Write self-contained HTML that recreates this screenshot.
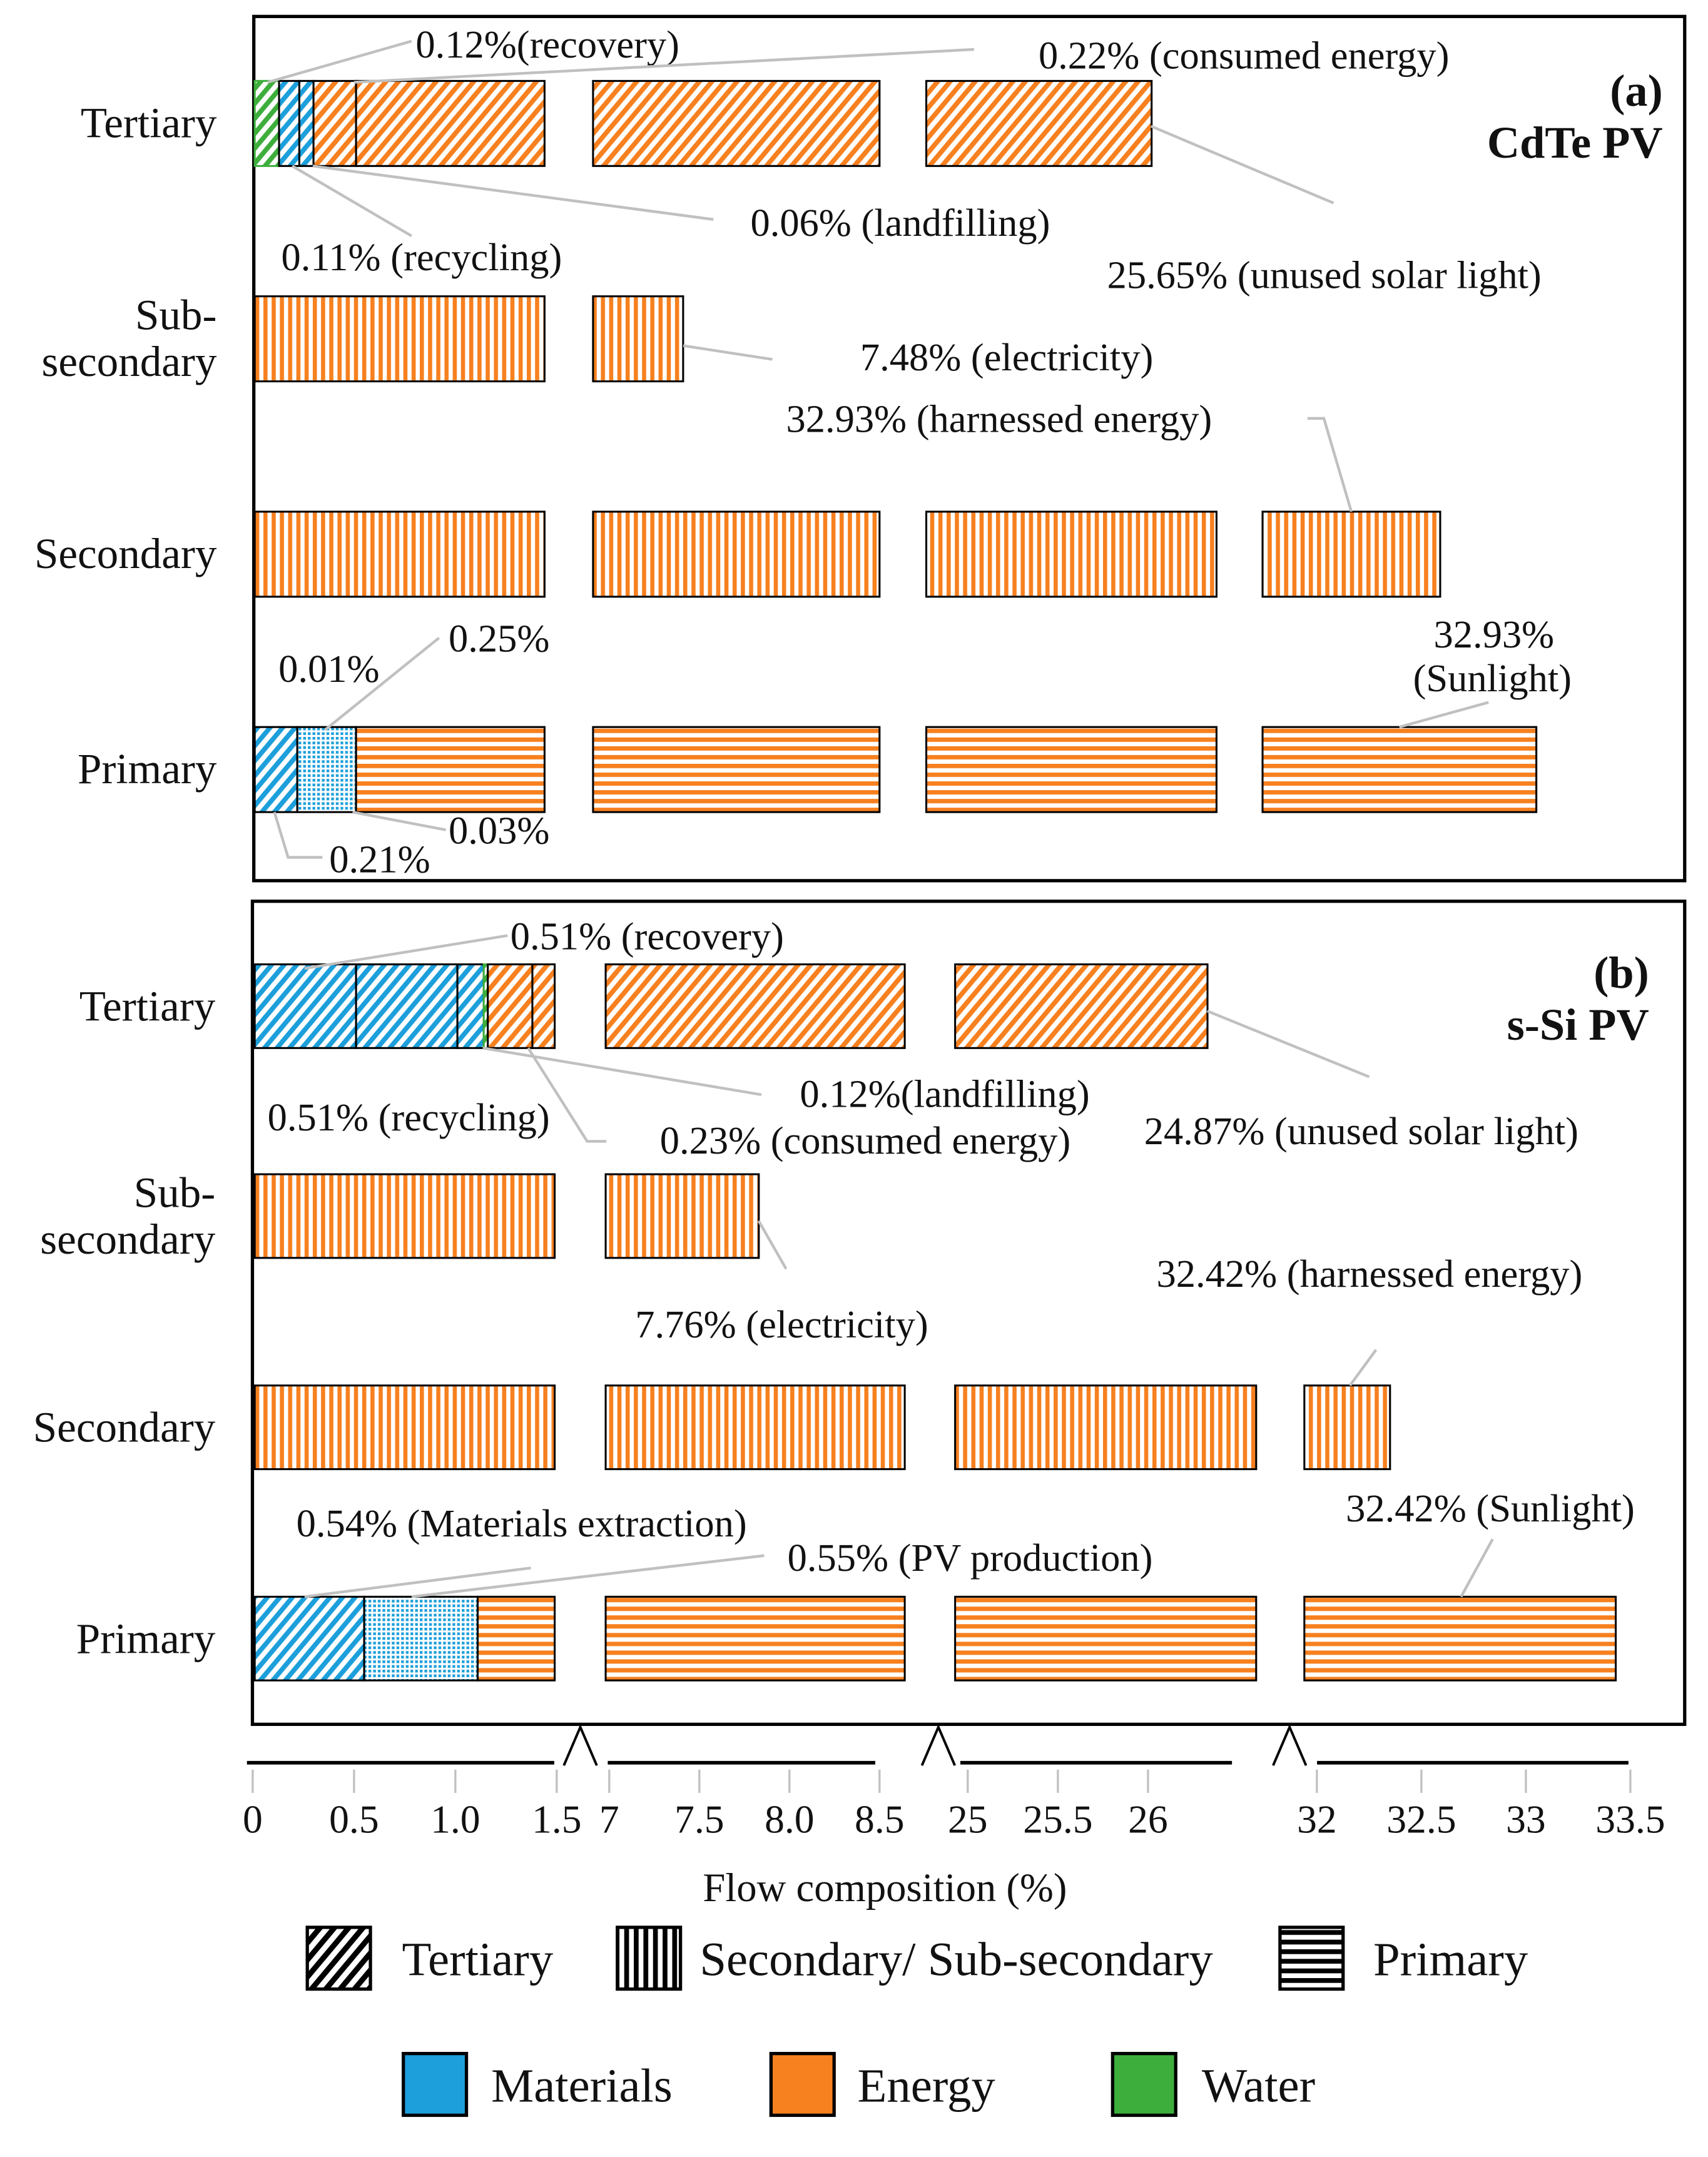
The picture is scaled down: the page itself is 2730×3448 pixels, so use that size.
<!DOCTYPE html>
<html><head><meta charset="utf-8"><style>
html,body{margin:0;padding:0;background:#fff;}
svg{display:block;}
text{font-family:"Liberation Serif",serif;fill:#111;}
</style></head><body>
<svg id="chart" width="2730" height="3448" viewBox="0 0 2730 3448" xmlns="http://www.w3.org/2000/svg">
<defs>
<pattern id="p-diag-energy" patternUnits="userSpaceOnUse" width="7" height="7" patternTransform="rotate(40)"><rect width="7" height="7" fill="#fff"/><rect width="3.5" height="7" fill="#f7801f"/></pattern>
<pattern id="p-diag-materials" patternUnits="userSpaceOnUse" width="7" height="7" patternTransform="rotate(40)"><rect width="7" height="7" fill="#fff"/><rect width="3.5" height="7" fill="#1c9fdb"/></pattern>
<pattern id="p-diag-water" patternUnits="userSpaceOnUse" width="7" height="7" patternTransform="rotate(40)"><rect width="7" height="7" fill="#fff"/><rect width="3.5" height="7" fill="#3dae3b"/></pattern>
<pattern id="p-diag-black" patternUnits="userSpaceOnUse" width="8" height="8" patternTransform="rotate(40)"><rect width="8" height="8" fill="#fff"/><rect width="4" height="8" fill="#000"/></pattern>
<pattern id="p-vert-energy" patternUnits="userSpaceOnUse" width="6" height="6"><rect width="6" height="6" fill="#fff"/><rect width="3" height="6" fill="#f7801f"/></pattern>
<pattern id="p-vert-black" patternUnits="userSpaceOnUse" width="7" height="7"><rect width="7" height="7" fill="#fff"/><rect width="3.5" height="7" fill="#000"/></pattern>
<pattern id="p-horz-energy" patternUnits="userSpaceOnUse" width="6.4" height="6.4"><rect width="6.4" height="6.4" fill="#fff"/><rect width="6.4" height="3.2" fill="#f7801f"/></pattern>
<pattern id="p-horz-black" patternUnits="userSpaceOnUse" width="7" height="7"><rect width="7" height="7" fill="#fff"/><rect width="7" height="3.5" fill="#000"/></pattern>
<pattern id="p-dot-materials" patternUnits="userSpaceOnUse" width="3.4" height="3.4"><rect width="3.4" height="3.4" fill="#fff"/><rect width="2" height="2" fill="#1c9fdb"/></pattern>
</defs>
<g id="root" transform="scale(2.1928)"></g>
</svg>
<script>
// ---- data ----
const segDomains = [[0,1.5],[7,8.5],[25,26],[32,33.5]];
const tickValues = [[0,0.5,1.0,1.5],[7,7.5,8.0,8.5],[25,25.5,26],[32,32.5,33,33.5]];
const tickLabels = [["0","0.5","1.0","1.5"],["7","7.5","8.0","8.5"],["25","25.5","26"],["32","32.5","33","33.5"]];
const rowNames = ["Tertiary","Sub-secondary","Secondary","Primary"];
// pieces: [segment, start, end, flow, pattern]
const cdteTertiary = [[0,0.01,0.13,"water","diag"],[0,0.13,0.23,"materials","diag"],[0,0.23,0.30,"materials","diag"],[0,0.30,0.51,"energy","diag"],[0,0.51,1.44,"energy","diag"],[1,6.91,8.5,"energy","diag"],[2,24.77,26.02,"energy","diag"]];
const cdteSubSecondary = [[0,0.01,1.44,"energy","vert"],[1,6.91,7.41,"energy","vert"]];
const cdteSecondary = [[0,0.01,1.44,"energy","vert"],[1,6.91,8.5,"energy","vert"],[2,24.77,26.38,"energy","vert"],[3,31.74,32.59,"energy","vert"]];
const cdtePrimary = [[0,0.01,0.22,"materials","diag"],[0,0.22,0.51,"materials","dot"],[0,0.51,1.44,"energy","horz"],[1,6.91,8.5,"energy","horz"],[2,24.77,26.38,"energy","horz"],[3,31.74,33.05,"energy","horz"]];
const ssiTertiary = [[0,0.01,0.51,"materials","diag"],[0,0.51,1.01,"materials","diag"],[0,1.01,1.14,"materials","diag"],[0,1.14,1.16,"water","diag"],[0,1.16,1.38,"energy","diag"],[0,1.38,1.49,"energy","diag"],[1,6.98,8.64,"energy","diag"],[2,24.93,26.33,"energy","diag"]];
const ssiSubSecondary = [[0,0.01,1.49,"energy","vert"],[1,6.98,7.83,"energy","vert"]];
const ssiSecondary = [[0,0.01,1.49,"energy","vert"],[1,6.98,8.64,"energy","vert"],[2,24.93,26.6,"energy","vert"],[3,31.94,32.35,"energy","vert"]];
const ssiPrimary = [[0,0.01,0.55,"materials","diag"],[0,0.55,1.11,"materials","dot"],[0,1.11,1.49,"energy","horz"],[1,6.98,8.64,"energy","horz"],[2,24.93,26.6,"energy","horz"],[3,31.94,33.43,"energy","horz"]];

// ---- layout (styling) ----
const segPx = [[184.2,405.8],[444.1,641.1],[705.4,836.8],[959.9,1188.4]];
function xScale(seg,v){const d=segDomains[seg],p=segPx[seg];return p[0]+(v-d[0])/(d[1]-d[0])*(p[1]-p[0]);}
const NS="http://www.w3.org/2000/svg";
const root=document.getElementById('root');
function mk(tag,attrs,parent){const e=document.createElementNS(NS,tag);for(const k in attrs)e.setAttribute(k,attrs[k]);(parent||root).appendChild(e);return e;}
function txt(x,y,s,size,opts,name){const e=mk('text',Object.assign({x:x,y:y,'font-size':size},opts||{}));e.textContent=s;


return e;}
function line(pts,name){const e=mk('polyline',{points:pts,fill:'none',stroke:'#c0c0c0','stroke-width':2});

}

function drawRow(pieces,y0,h,rowName){
  pieces.forEach((p,i)=>{
    const x1=xScale(p[0],p[1]),x2=xScale(p[0],p[2]);
    const r=mk('rect',{x:x1,y:y0,width:Math.max(0.5,x2-x1),height:h,fill:'url(#p-'+p[4]+'-'+p[3]+')',stroke:p[3]==='water'?'#3dae3b':'#000','stroke-width':1.4});
    
    
  });
}
// frames
[[185,12,1043,630,'panel-a-frame'],[184,657,1044,600,'panel-b-frame']].forEach(f=>{
  const r=mk('rect',{x:f[0],y:f[1],width:f[2],height:f[3],fill:'none',stroke:'#000','stroke-width':2.4});
  
  
});
const rowsA=[cdteTertiary,cdteSubSecondary,cdteSecondary,cdtePrimary], yA=[59,216,373,530];
const rowsB=[ssiTertiary,ssiSubSecondary,ssiSecondary,ssiPrimary], yB=[703,856,1010,1164];
rowsA.forEach((r,i)=>drawRow(r,yA[i],62,'cdte-'+rowNames[i].toLowerCase()));
rowsB.forEach((r,i)=>drawRow(r,yB[i],61,'ssi-'+rowNames[i].toLowerCase()));
// row labels
const RL=31.5;
function rowLabels(ys,xr,pfx){
  const c=[ys[0]+31,ys[1]+31,ys[2]+31,ys[3]+31];
  txt(xr,c[0]+10,"Tertiary",RL,{'text-anchor':'end'},pfx+'-row-label-tertiary');
  txt(xr,c[1]-7,"Sub-",RL,{'text-anchor':'end'},pfx+'-row-label-sub');
  txt(xr,c[1]+27,"secondary",RL,{'text-anchor':'end'},pfx+'-row-label-secondary-2');
  txt(xr,c[2]+10,"Secondary",RL,{'text-anchor':'end'},pfx+'-row-label-secondary');
  txt(xr,c[3]+10,"Primary",RL,{'text-anchor':'end'},pfx+'-row-label-primary');
}
rowLabels(yA,158,'cdte'); rowLabels(yB,157,'ssi');
// panel titles
txt(1212,77,"(a)",33,{'text-anchor':'end','font-weight':'bold'},'panel-a-label');
txt(1212,115,"CdTe PV",33,{'text-anchor':'end','font-weight':'bold'},'panel-a-title');
txt(1202,720,"(b)",33,{'text-anchor':'end','font-weight':'bold'},'panel-b-label');
txt(1202,758,"s-Si PV",33,{'text-anchor':'end','font-weight':'bold'},'panel-b-title');
// annotations panel a
const F=28.5;
line("195,60 300,30"); txt(303,42,"0.12%(recovery)",F);
line("258,60 710,36"); txt(757,50,"0.22% (consumed energy)",F);
line("228,121 520,160"); txt(547,172,"0.06% (landfilling)",F);
line("213,121 300,172"); txt(205,197,"0.11% (recycling)",F);
line("839,92 972,148"); txt(807,210,"25.65% (unused solar light)",F);
line("498,252 563,262"); txt(627,270,"7.48% (electricity)",F);
line("953,305 965,305 985,373"); txt(573,315,"32.93% (harnessed energy)",F);
line("1020,530 1085,512"); txt(1045,472,"32.93%",F); txt(1030,504,"(Sunlight)",F);
txt(203,497,"0.01%",F);
line("237,532 320,465"); txt(327,475,"0.25%",F);
line("257,592 325,605"); txt(327,615,"0.03%",F);
line("200,592 210,625 235,625"); txt(240,636,"0.21%",F);
// annotations panel b
line("222,706 370,682"); txt(372,692,"0.51% (recovery)",F);
line("880,737 998,785"); txt(834,834,"24.87% (unused solar light)",F);
line("352,764 555,798"); txt(583,807,"0.12%(landfilling)",F);
txt(195,824,"0.51% (recycling)",F);
line("385,764 428,832 442,832"); txt(481,841,"0.23% (consumed energy)",F);
line("553,890 573,925"); txt(463,975,"7.76% (electricity)",F);
line("984,1010 1003,984"); txt(843,938,"32.42% (harnessed energy)",F);
line("222,1164 387,1143"); txt(216,1120,"0.54% (Materials extraction)",F);
line("300,1164 557,1134"); txt(574,1145,"0.55% (PV production)",F);
line("1065,1164 1088,1122"); txt(981,1109,"32.42% (Sunlight)",F);
// axis
const axisY=1285;
const axisSegs=[[180,404],[443,638],[700,898],[960,1187]];
axisSegs.forEach((s,i)=>{const l=mk('line',{x1:s[0],y1:axisY,x2:s[1],y2:axisY,stroke:'#000','stroke-width':2.6});

});
[423,684,940].forEach((b,i)=>{const p=mk('polyline',{points:(b-12)+','+(axisY+2)+' '+b+','+(axisY-26)+' '+(b+12)+','+(axisY+2),fill:'none',stroke:'#000','stroke-width':1.8});

});
tickValues.forEach((vals,s)=>vals.forEach((v,j)=>{
  const x=xScale(s,v);
  const t=mk('line',{x1:x,y1:axisY+5,x2:x,y2:axisY+22,stroke:'#c0c0c0','stroke-width':1.5});
  
  
  txt(x,axisY+51,tickLabels[s][j],29,{'text-anchor':'middle'},'x-tick-label');
}));
txt(645,1386,"Flow composition (%)",29.5,{'text-anchor':'middle'},'x-axis-title');
// legend
function legBox(x,y,fill,label,tx,name){const r=mk('rect',{x:x,y:y,width:46,height:45,fill:fill,stroke:'#000','stroke-width':2.4});


txt(tx,y+35,label,35,{},name+'-label');}
legBox(224,1405,'url(#p-diag-black)','Tertiary',293,'legend-tertiary');
legBox(450,1405,'url(#p-vert-black)','Secondary/ Sub-secondary',510,'legend-secondary');
legBox(933,1405,'url(#p-horz-black)','Primary',1001,'legend-primary');
legBox(294,1497,'#1c9fdb','Materials',358,'legend-materials');
legBox(562,1497,'#f7801f','Energy',625,'legend-energy');
legBox(811,1497,'#3dae3b','Water',876,'legend-water');
</script>
</body></html>
